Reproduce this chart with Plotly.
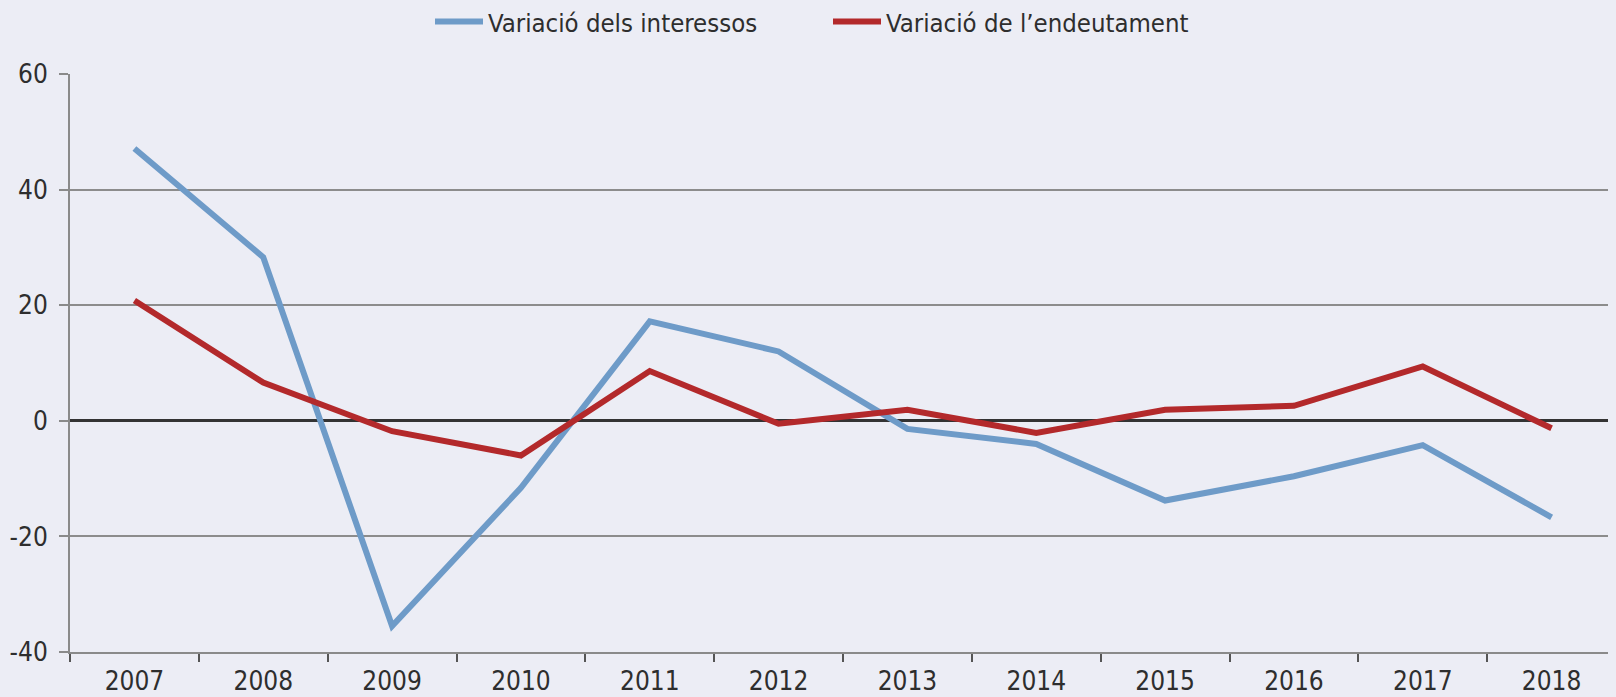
import plotly.graph_objects as go

years = ["2007", "2008", "2009", "2010", "2011", "2012", "2013", "2014", "2015", "2016", "2017", "2018"]
interessos = [47.1, 28.3, -35.5, -11.6, 17.2, 12.0, -1.4, -4.0, -13.8, -9.6, -4.2, -16.7]
endeutament = [20.8, 6.6, -1.8, -6.0, 8.6, -0.5, 1.9, -2.1, 1.9, 2.6, 9.4, -1.3]
y_ticks = [-40, -20, 0, 20, 40, 60]
y_tick_text = ["-40", "-20", "0", "20", "40", "60"]

FONT = "Liberation Sans Narrow, Arial Narrow, DejaVu Sans Condensed, sans-serif"
BG = "#ECEDF5"
TXT = "#2e2e2e"

fig = go.Figure()
fig.add_trace(go.Scatter(x=years, y=interessos, mode="lines", name="Variació dels interessos",
                         line=dict(color="#6E9BC8", width=6)))
fig.add_trace(go.Scatter(x=years, y=endeutament, mode="lines", name="Variació de l\u2019endeutament",
                         line=dict(color="#B3292B", width=6)))

fig.update_layout(
    width=1616, height=697,
    margin=dict(l=62, r=8, t=66, b=53, autoexpand=False),
    paper_bgcolor=BG, plot_bgcolor=BG,
    font=dict(family=FONT, size=26, color=TXT),
    showlegend=True,
    legend=dict(orientation="h", xref="container", yref="container", x=422 / 1616, xanchor="left",
                y=1 - 14 / 697, yanchor="middle", font=dict(size=25.5, color=TXT), bgcolor="rgba(0,0,0,0)",
                itemwidth=48, entrywidth=335),
)
fig.update_xaxes(
    type="category", range=[-0.5, 11.5],
    showgrid=False, showline=True, linecolor="#8a8a8a", linewidth=2,
    ticks="outside", tickson="boundaries", ticklen=8, tickwidth=1.5, tickcolor="#555555",
    ticklabelstandoff=5,
    tickfont=dict(size=26, color=TXT),
)
fig.update_yaxes(
    range=[-40, 60], tickvals=y_ticks, ticktext=y_tick_text,
    showgrid=True, gridcolor="#8c8c8c", gridwidth=1.5,
    zeroline=True, zerolinecolor="#333333", zerolinewidth=2.5,
    showline=True, linecolor="#8a8a8a", linewidth=2,
    ticks="outside", ticklen=9, tickwidth=1.5, tickcolor="#8a8a8a",
    ticklabelstandoff=6,
    tickfont=dict(size=26, color=TXT),
)

fig.write_html("out.html",
               post_script="document.body.style.background='%s';document.documentElement.style.background='%s';" % (BG, BG))
